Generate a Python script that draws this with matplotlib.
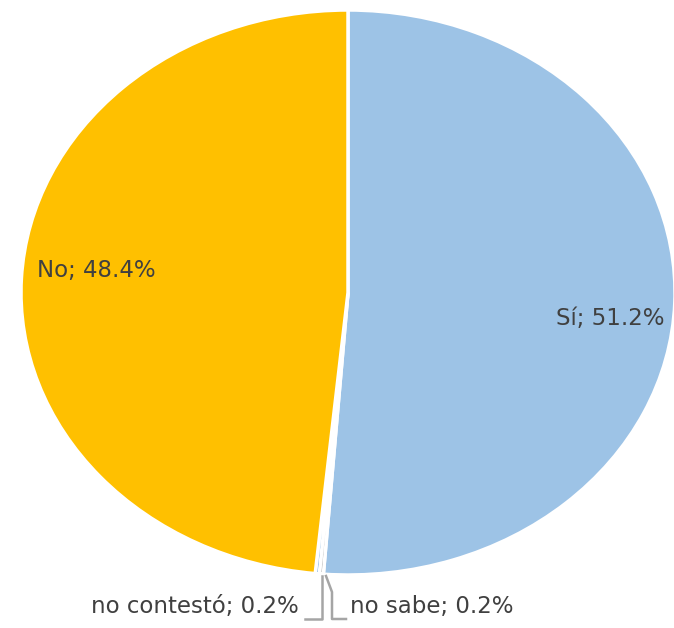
import matplotlib
matplotlib.use("Agg")
import matplotlib.pyplot as plt
import numpy as np

labels = ["Sí", "no sabe", "no contestó", "No"]
values = [51.2, 0.2, 0.2, 48.4]
colors = ["#9DC3E6", "#A5A5A5", "#5B9BD5", "#FFC000"]

plt.rcParams['font.family'] = ['DejaVu Sans']
W, H = 674, 628
fig = plt.figure(figsize=(W/100, H/100), dpi=100)
# pie axes (ellipse)
L, R, T, B = 21, 675, 10, 575
ax = fig.add_axes([L/W, (H-B)/H, (R-L)/W, (B-T)/H])
wedges, _ = ax.pie(values, colors=colors, startangle=90, counterclock=False,
                   radius=1, wedgeprops=dict(edgecolor="white", linewidth=2.5))
ax.set_aspect('auto')
ax.set_xlim(-1, 1)
ax.set_ylim(-1, 1)
ax.axis('off')

tc = "#404040"
fs = 16.5
# overlay in pixel coordinates
ov = fig.add_axes([0, 0, 1, 1])
ov.set_xlim(0, W)
ov.set_ylim(H, 0)
ov.axis('off')

ov.text(610, 318, f"{labels[0]}; {values[0]:.1f}%", ha="center", va="center", color=tc, fontsize=fs)
ov.text(96, 270, f"{labels[3]}; {values[3]:.1f}%", ha="center", va="center", color=tc, fontsize=fs)
ov.text(299, 607, f"{labels[2]}; {values[2]:.1f}%", ha="right", va="center", color=tc, fontsize=fs)
ov.text(350, 607, f"{labels[1]}; {values[1]:.1f}%", ha="left", va="center", color=tc, fontsize=fs)

lc = "#A5A5A5"
ov.plot([322, 322, 305], [576, 619, 619], color=lc, lw=1.8)
ov.plot([326, 332, 332, 346], [576, 592, 619, 619], color=lc, lw=1.8)

fig.savefig("out.png", dpi=100)
